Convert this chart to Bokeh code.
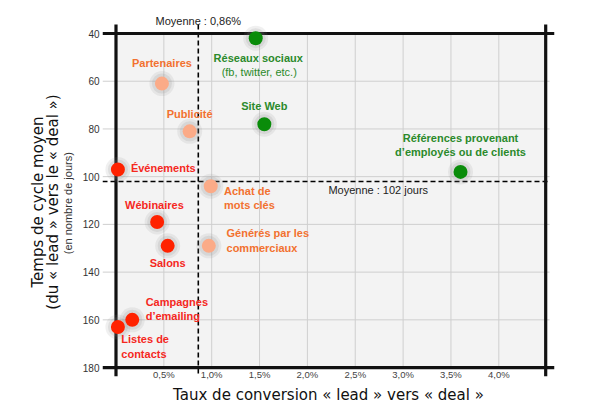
from bokeh.plotting import figure
from bokeh.models import ColumnDataSource, FixedTicker, LinearAxis, Range1d
from bokeh.core.properties import value
from bokeh.embed import file_html
from bokeh.resources import INLINE

# ---- data ----
names = ["Réseaux sociaux", "Partenaires", "Publicité", "Site Web", "Événements",
         "Achat de\nmots clés", "Références provenant\nd’employés ou de clients",
         "Wébinaires", "Salons", "Générés par les\ncommerciaux",
         "Campagnes\nd’emailing", "Listes de\ncontacts"]
conv = [1.46, 0.48, 0.77, 1.55, 0.02, 0.99, 3.60, 0.43, 0.54, 0.97, 0.17, 0.02]
cycle = [42, 61, 81, 78, 97, 104, 98, 119, 129, 129, 160, 163]
group = ["vert", "peche", "peche", "vert", "rouge", "peche", "vert",
         "rouge", "rouge", "peche", "rouge", "rouge"]
sub_label = "(fb, twitter, etc.)"
mean_conv = 0.86
mean_cycle = 102
mean_conv_label = "Moyenne : 0,86%"
mean_cycle_label = "Moyenne : 102 jours"
x_ticks = [0.5, 1.0, 1.5, 2.0, 2.5, 3.0, 3.5, 4.0]
x_tick_labels = ["0,5%", "1,0%", "1,5%", "2,0%", "2,5%", "3,0%", "3,5%", "4,0%"]
y_ticks = [40, 60, 80, 100, 120, 140, 160, 180]
y_tick_labels = ["40", "60", "80", "100", "120", "140", "160", "180"]
x_title = "Taux de conversion « lead » vers « deal »"
y_title_1 = "Temps de cycle moyen"
y_title_2 = "(du « lead » vers le « deal »)"
y_subtitle = "(en nombre de jours)"

# ---- styles ----
marker_col = {"vert": "#0a8c0a", "peche": "#fbab88", "rouge": "#ff2200"}
text_col = {"vert": "#2b8a2b", "peche": "#f2712f", "rouge": "#f5281e"}
# label offsets (px, screen) and alignment per point
place = [(2.5, 20, "center"), (0, -20.5, "center"), (0, -17, "center"), (0, -18, "center"),
         (13, -1.7, "left"), (13.3, 12, "left"), (0, -26.7, "center"), (-2.7, -16.7, "center"),
         (0, 17, "center"), (17.7, -5.2, "left"), (13.4, -10.8, "left"), (3.4, 19.7, "left")]
PAD = "\u00a0"  # trailing pad to move rotated titles down a little

X0, X1 = 0.0, 4.49
Y0, Y1 = 40, 180
xr = Range1d(-0.141, 4.582)
yr = Range1d(183.75, 29.52)
ext_x = -0.141
ext_x2 = 4.582
ext_ytop = 36.2
ext_ybot = 183.75

p = figure(width=596, height=406, x_range=xr, y_range=yr,
           output_backend="svg", toolbar_location=None,
           min_border_left=102, min_border_right=42, min_border_top=8, min_border_bottom=30)
p.outline_line_color = None
p.background_fill_color = "white"
p.border_fill_color = "white"
p.xgrid.visible = False
p.ygrid.visible = False

# background
p.quad(left=[X0], right=[X1], top=[Y0], bottom=[Y1], fill_color="#f3f3f3", line_color=None)
# grid lines
p.segment(x0=x_ticks, x1=x_ticks, y0=[Y0] * len(x_ticks), y1=[Y1] * len(x_ticks),
          line_color="#cfcfcf", line_width=1)
yg = y_ticks[1:-1]
p.segment(x0=[ext_x] * len(yg), x1=[4.53] * len(yg), y0=yg, y1=yg,
          line_color="#cfcfcf", line_width=1)
# mean lines
p.segment(x0=[mean_conv], x1=[mean_conv], y0=[ext_ytop], y1=[ext_ybot],
          line_color="black", line_width=1.6, line_dash="5 3")
p.segment(x0=[ext_x], x1=[4.53], y0=[mean_cycle], y1=[mean_cycle],
          line_color="black", line_width=1.6, line_dash="5 3")
# frame lines
p.segment(x0=[X0, X1], x1=[X0, X1], y0=[ext_ytop] * 2, y1=[ext_ybot] * 2,
          line_color="#111111", line_width=3.2)
p.segment(x0=[ext_x] * 2, x1=[ext_x2] * 2, y0=[Y0, Y1], y1=[Y0, Y1],
          line_color="#111111", line_width=3.2)

src = ColumnDataSource(dict(
    x=conv, y=cycle, name=names,
    mc=[marker_col[g] for g in group], tc=[text_col[g] for g in group],
    dx=[pl[0] for pl in place], dy=[pl[1] for pl in place], al=[pl[2] for pl in place],
))
p.scatter("x", "y", source=src, size=25, fill_color="#8a8a8a", fill_alpha=0.13, line_color=None)
p.scatter("x", "y", source=src, size=20, fill_color="#8a8a8a", fill_alpha=0.16, line_color=None)
p.scatter("x", "y", source=src, size=14, fill_color="mc", line_color=None)

p.text("x", "y", text="name", source=src, x_offset="dx", y_offset="dy", text_align="al",
       text_baseline="middle", text_color="tc", text_font=value("Liberation Sans"),
       text_font_style="bold", text_font_size="11px", text_line_height=1.2)
p.text(x=[conv[0]], y=[cycle[0]], text=[sub_label], x_offset=3.5, y_offset=34,
       text_align="center", text_baseline="middle", text_color=text_col["vert"],
       text_font=value("Liberation Sans"), text_font_size="11px")
p.text(x=[mean_conv], y=[Y0], text=[mean_conv_label], y_offset=-13, text_align="center",
       text_baseline="middle", text_color="#222222", text_font=value("Liberation Sans"),
       text_font_size="11px")
p.text(x=[2.74], y=[mean_cycle], text=[mean_cycle_label], y_offset=9, text_align="center",
       text_baseline="middle", text_color="#222222", text_font=value("Liberation Sans"),
       text_font_size="11px")

# axes
xa = p.xaxis[0]
xa.ticker = FixedTicker(ticks=x_ticks)
xa.major_label_overrides = dict(zip(x_ticks, x_tick_labels))
xa.axis_line_color = None
xa.major_tick_line_color = None
xa.minor_tick_line_color = None
xa.major_tick_out = 0
xa.major_label_standoff = -8
xa.major_label_text_font = "Liberation Sans"
xa.major_label_text_font_size = "9.5px"
xa.major_label_text_color = "#444444"
xa.axis_label = x_title
xa.axis_label_text_font = "DejaVu Sans"
xa.axis_label_text_font_size = "15px"
xa.axis_label_text_font_style = "normal"
xa.axis_label_text_color = "#111111"
xa.axis_label_standoff = 3

ya = p.yaxis[0]
ya.ticker = FixedTicker(ticks=y_ticks)
ya.major_label_overrides = dict(zip(y_ticks, y_tick_labels))
ya.axis_line_color = None
ya.major_tick_line_color = None
ya.minor_tick_line_color = None
ya.major_tick_out = 0
ya.major_label_standoff = 3
ya.major_label_text_font = "Liberation Sans"
ya.major_label_text_font_size = "10px"
ya.major_label_text_color = "#333333"
ya.axis_label = y_subtitle + PAD * 7
ya.axis_label_text_font = "Liberation Sans"
ya.axis_label_text_font_size = "11px"
ya.axis_label_text_font_style = "normal"
ya.axis_label_text_color = "#333333"
ya.axis_label_standoff = 6


def title_axis(text, standoff):
    ax = LinearAxis(ticker=FixedTicker(ticks=[]))
    ax.axis_line_color = None
    ax.major_tick_line_color = None
    ax.minor_tick_line_color = None
    ax.major_tick_out = 0
    ax.major_tick_in = 0
    ax.major_label_text_font_size = "0px"
    ax.major_label_standoff = 0
    ax.axis_label = text
    ax.axis_label_text_font = "DejaVu Sans"
    ax.axis_label_text_font_size = "15px"
    ax.axis_label_text_font_style = "normal"
    ax.axis_label_text_color = "#111111"
    ax.axis_label_standoff = standoff
    return ax


p.add_layout(title_axis(y_title_2 + PAD * 4, -3), "left")
p.add_layout(title_axis(y_title_1 + PAD * 4, -6), "left")

open("out.html", "w").write(file_html(p, INLINE))
